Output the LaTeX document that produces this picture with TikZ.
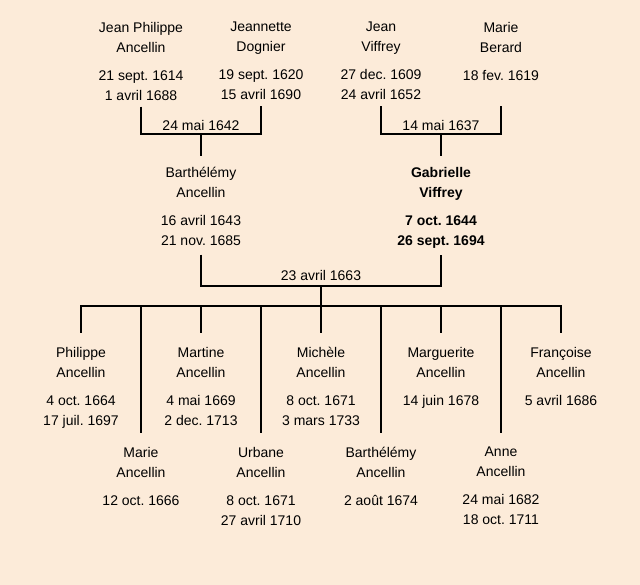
\documentclass[tikz,border=0pt]{standalone}
\usepackage{fontspec}
\setmainfont{Liberation Sans}
\frenchspacing
\definecolor{bg}{HTML}{FCEBD9}
\tikzset{
  person/.style={anchor=north, align=center, inner sep=0pt, text=black,
    font=\fontsize{14}{20}\selectfont\frenchspacing,
    execute at begin node=\strut, execute at end node=\strut},
  datelbl/.style={anchor=base, inner sep=0pt, font=\fontsize{14}{20}\selectfont},
  link/.style={line width=2pt, draw=black}
}
\begin{document}
\begin{tikzpicture}[x=1pt,y=-1pt]
\fill[bg] (0,0) rectangle (640,585);
\useasboundingbox (0,0) rectangle (640,585);
% parents
\node[person] (jp) at (141,22) {Jean Philippe\\Ancellin\\[8pt]21 sept. 1614\\1 avril 1688};
\node[person] (jn) at (261,22) {Jeannette\\Dognier\\[8pt]19 sept. 1620\\15 avril 1690};
\node[person] (jv) at (381,22) {Jean\\Viffrey\\[8pt]27 dec. 1609\\24 avril 1652};
\node[person] (mb) at (501,22) {Marie\\Berard\\[8pt]18 fev. 1619};
% second generation
\node[person] (ba) at (201,167) {Barthélémy\\Ancellin\\[8pt]16 avril 1643\\21 nov. 1685};
\node[person, font=\fontsize{14}{20}\selectfont\bfseries\frenchspacing] (ga) at (441,167) {Gabrielle\\Viffrey\\[8pt]7 oct. 1644\\26 sept. 1694};
% children top row
\node[person] (c1) at (81,347) {Philippe\\Ancellin\\[8pt]4 oct. 1664\\17 juil. 1697};
\node[person] (c3) at (201,347) {Martine\\Ancellin\\[8pt]4 mai 1669\\2 dec. 1713};
\node[person] (c5) at (321,347) {Michèle\\Ancellin\\[8pt]8 oct. 1671\\3 mars 1733};
\node[person] (c7) at (441,347) {Marguerite\\Ancellin\\[8pt]14 juin 1678};
\node[person] (c9) at (561,347) {Françoise\\Ancellin\\[8pt]5 avril 1686};
% children bottom row
\node[person] (c2) at (141,447) {Marie\\Ancellin\\[8pt]12 oct. 1666};
\node[person] (c4) at (261,447) {Urbane\\Ancellin\\[8pt]8 oct. 1671\\27 avril 1710};
\node[person] (c6) at (381,447) {Barthélémy\\Ancellin\\[8pt]2 août 1674};
\node[person] (c8) at (501,447) {Anne\\Ancellin\\[8pt]24 mai 1682\\18 oct. 1711};
% unions
\coordinate (u1) at (201,134);
\coordinate (u2) at (441,134);
\coordinate (u3) at (321,286);
\coordinate (h) at (321,306);
\node[datelbl] (m1) at (201,131) {24 mai 1642};
\node[datelbl] (m2) at (441,131) {14 mai 1637};
\node[datelbl] (m3) at (321,281) {23 avril 1663};
\draw[link] (jp.south) |- (u1) -| (jn.south);
\draw[link] (jv.south) |- (u2) -| (mb.center |- jv.south);
\draw[link, shorten >=11pt] (u1) -- (ba.north);
\draw[link, shorten >=11pt] (u2) -- (ga.north);
\draw[link, shorten <=3pt, shorten >=3pt] (ba.south) |- (u3) -| (ga.south);
\draw[link] (u3) -- (h);
\draw[link, line cap=rect] (c1.center |- h) -- (c9.center |- h);
\foreach \c in {c1,c2,c3,c4,c5,c6,c7,c8,c9}
  \draw[link, shorten >=14pt] (\c.center |- h) -- (\c.north);
\end{tikzpicture}
\end{document}
